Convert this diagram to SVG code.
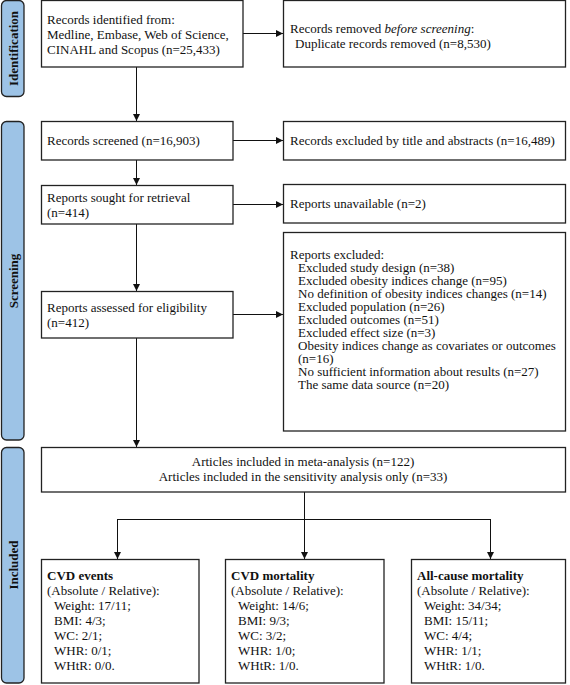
<svg xmlns="http://www.w3.org/2000/svg" width="570" height="685" viewBox="0 0 570 685">
<style>
.box{fill:#fff;stroke:#222;stroke-width:1.3}
.side{fill:#9dc3e6;stroke:#222;stroke-width:1.3}
.t{font-family:"Liberation Serif","Times New Roman",serif;font-size:13px;fill:#111}
.b{font-weight:bold}
.st{font-family:"Liberation Serif","Times New Roman",serif;font-size:13px;font-weight:bold;fill:#111}
.c{fill:none;stroke:#111;stroke-width:1}
</style>
<defs>
<marker id="ah" markerWidth="8" markerHeight="8" refX="7" refY="4" orient="auto" markerUnits="userSpaceOnUse">
<path d="M0,0.5 L7,4 L0,7.5 Z" fill="#111"/>
</marker>
</defs>
<g id="phase-identification">
<rect class="side" x="1.5" y="0.5" width="22.5" height="96" rx="5"/>
<text class="st" transform="translate(17.5,48.5) rotate(-90)" text-anchor="middle">Identification</text>
</g>
<g id="phase-screening">
<rect class="side" x="1.5" y="121.5" width="22.5" height="318.5" rx="5"/>
<text class="st" transform="translate(17.5,281) rotate(-90)" text-anchor="middle">Screening</text>
</g>
<g id="phase-included">
<rect class="side" x="1.5" y="447.5" width="22.5" height="235.5" rx="5"/>
<text class="st" transform="translate(17.5,565) rotate(-90)" text-anchor="middle">Included</text>
</g>
<g id="connectors">
<line class="c" x1="243" y1="33.5" x2="283" y2="33.5" marker-end="url(#ah)"/>
<line class="c" x1="136.5" y1="67" x2="136.5" y2="121" marker-end="url(#ah)"/>
<line class="c" x1="233" y1="140.5" x2="283" y2="140.5" marker-end="url(#ah)"/>
<line class="c" x1="136.5" y1="160" x2="136.5" y2="185" marker-end="url(#ah)"/>
<line class="c" x1="233" y1="204.5" x2="283" y2="204.5" marker-end="url(#ah)"/>
<line class="c" x1="136.5" y1="224" x2="136.5" y2="291" marker-end="url(#ah)"/>
<line class="c" x1="233" y1="314.5" x2="283" y2="314.5" marker-end="url(#ah)"/>
<line class="c" x1="136.5" y1="338" x2="136.5" y2="447" marker-end="url(#ah)"/>
<polyline class="c" points="304.5,492 304.5,519.5"/>
<line class="c" x1="117" y1="519.5" x2="491" y2="519.5"/>
<line class="c" x1="117.5" y1="519.5" x2="117.5" y2="559" marker-end="url(#ah)"/>
<line class="c" x1="304.5" y1="519.5" x2="304.5" y2="559" marker-end="url(#ah)"/>
<line class="c" x1="490.5" y1="519.5" x2="490.5" y2="559" marker-end="url(#ah)"/>
</g>
<g id="records-identified">
<rect class="box" x="41.5" y="0.5" width="201.5" height="66.5"/>
<text class="t" x="47" y="24">Records identified from:</text>
<text class="t" x="47" y="39">Medline, Embase, Web of Science,</text>
<text class="t" x="47" y="54">CINAHL and Scopus (n=25,433)</text>
</g>
<g id="records-removed">
<rect class="box" x="283.5" y="0.5" width="282" height="66.5"/>
<text class="t" x="290" y="33">Records removed <tspan font-style="italic">before screening</tspan>:</text>
<text class="t" x="295" y="48">Duplicate records removed (n=8,530)</text>
</g>
<g id="records-screened">
<rect class="box" x="41.5" y="121.5" width="191.5" height="38.5"/>
<text class="t" x="47" y="145">Records screened (n=16,903)</text>
</g>
<g id="records-excluded">
<rect class="box" x="283.5" y="121.5" width="282" height="38.5"/>
<text class="t" x="290" y="145">Records excluded by title and abstracts (n=16,489)</text>
</g>
<g id="reports-sought">
<rect class="box" x="41.5" y="185.5" width="191.5" height="38.5"/>
<text class="t" x="47" y="202">Reports sought for retrieval</text>
<text class="t" x="47" y="217">(n=414)</text>
</g>
<g id="reports-unavailable">
<rect class="box" x="283.5" y="184.5" width="282" height="38.5"/>
<text class="t" x="290" y="208">Reports unavailable (n=2)</text>
</g>
<g id="reports-assessed">
<rect class="box" x="41.5" y="291.5" width="191.5" height="46.5"/>
<text class="t" x="47" y="312">Reports assessed for eligibility</text>
<text class="t" x="47" y="327">(n=412)</text>
</g>
<g id="reports-excluded">
<rect class="box" x="283.5" y="232.5" width="282" height="198.5"/>
<text class="t" x="290" y="259">Reports excluded:</text>
<text class="t" x="298" y="272">Excluded study design (n=38)</text>
<text class="t" x="298" y="285">Excluded obesity indices change (n=95)</text>
<text class="t" x="298" y="298">No definition of obesity indices changes (n=14)</text>
<text class="t" x="298" y="311">Excluded population (n=26)</text>
<text class="t" x="298" y="324">Excluded outcomes (n=51)</text>
<text class="t" x="298" y="337">Excluded effect size (n=3)</text>
<text class="t" x="298" y="350">Obesity indices change as covariates or outcomes</text>
<text class="t" x="298" y="363">(n=16)</text>
<text class="t" x="298" y="376">No sufficient information about results (n=27)</text>
<text class="t" x="298" y="389">The same data source (n=20)</text>
</g>
<g id="articles-included">
<rect class="box" x="41.5" y="447.5" width="524" height="44.5"/>
<text class="t" x="303" y="466" text-anchor="middle">Articles included in meta-analysis (n=122)</text>
<text class="t" x="303" y="481" text-anchor="middle">Articles included in the sensitivity analysis only (n=33)</text>
</g>
<g id="cvd-events">
<rect class="box" x="41.5" y="559.5" width="157.5" height="123.5"/>
<text class="t b" x="47" y="580">CVD events</text>
<text class="t" x="47" y="595">(Absolute / Relative):</text>
<text class="t" x="54" y="610">Weight: 17/11;</text>
<text class="t" x="54" y="625">BMI: 4/3;</text>
<text class="t" x="54" y="640">WC: 2/1;</text>
<text class="t" x="54" y="655">WHR: 0/1;</text>
<text class="t" x="54" y="670">WHtR: 0/0.</text>
</g>
<g id="cvd-mortality">
<rect class="box" x="225.5" y="559.5" width="158.5" height="123.5"/>
<text class="t b" x="231" y="580">CVD mortality</text>
<text class="t" x="231" y="595">(Absolute / Relative):</text>
<text class="t" x="238" y="610">Weight: 14/6;</text>
<text class="t" x="238" y="625">BMI: 9/3;</text>
<text class="t" x="238" y="640">WC: 3/2;</text>
<text class="t" x="238" y="655">WHR: 1/0;</text>
<text class="t" x="238" y="670">WHtR: 1/0.</text>
</g>
<g id="all-cause-mortality">
<rect class="box" x="411.5" y="559.5" width="154" height="123.5"/>
<text class="t b" x="417" y="580">All-cause mortality</text>
<text class="t" x="417" y="595">(Absolute / Relative):</text>
<text class="t" x="424" y="610">Weight: 34/34;</text>
<text class="t" x="424" y="625">BMI: 15/11;</text>
<text class="t" x="424" y="640">WC: 4/4;</text>
<text class="t" x="424" y="655">WHR: 1/1;</text>
<text class="t" x="424" y="670">WHtR: 1/0.</text>
</g>
</svg>
